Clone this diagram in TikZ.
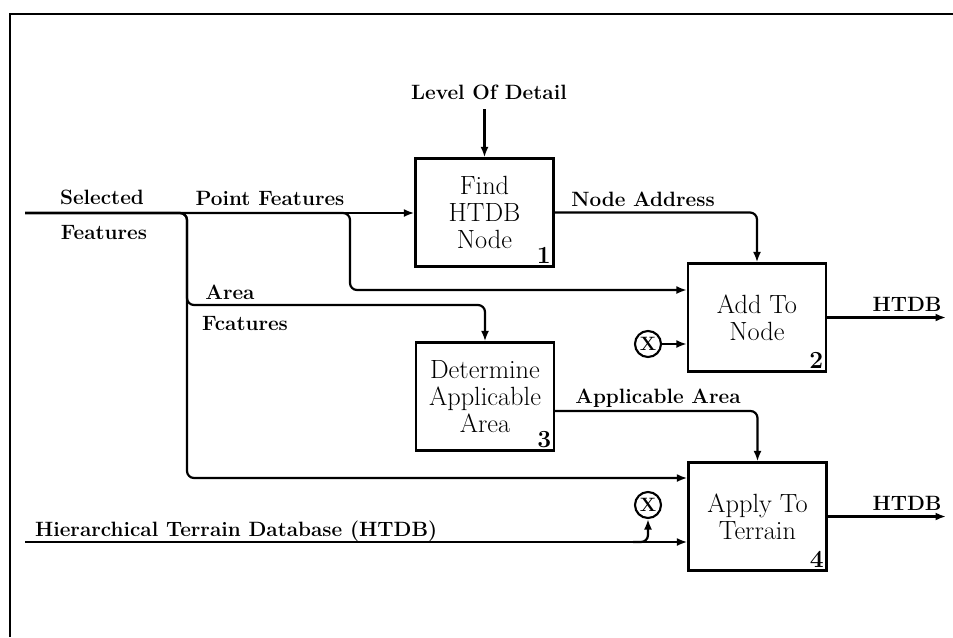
\documentclass[tikz,border=0pt]{standalone}
\usepackage{fontspec}
\usetikzlibrary{positioning,arrows.meta}

\begin{document}
\begin{tikzpicture}[
            x=0.02cm, y=-0.02cm,
            process/.style={rectangle, draw, line width=1.3pt, minimum width=2.76cm, minimum height=2.16cm, align=center, inner sep=0pt, font=\fontsize{15}{15.5}\selectfont},
            boxnum/.style={anchor=south east, inner sep=2pt, font=\fontsize{14}{14}\selectfont\bfseries},
            lbl/.style={inner sep=1pt, font=\fontsize{11.8}{13}\selectfont\bfseries},
            xmark/.style={circle, draw, line width=1.2pt, inner sep=0pt, minimum size=0.52cm, font=\fontsize{11}{11}\selectfont\bfseries},
            flow/.style={-{Latex[length=2.1mm,width=1.6mm]}, line width=1.25pt, rounded corners=4pt}
        ]
        \useasboundingbox (0,0) rectangle (953,637);

        % frame
        \draw[line width=1pt] (10,637) -- (10,14) -- (953,14);

        % processes
        \node[process] (find) at (484.5,212.5) {Find\\HTDB\\Node};
        \node[process] (add) at (757,317.5) {Add To\\Node};
        \node[process] (det) at (485,396.5) {Determine\\Applicable\\Area};
        \node[process] (apply) at (757.5,516.5) {Apply To\\Terrain};
        \node[boxnum] (n1) at (find.south east) {1};
        \node[boxnum] (n2) at (add.south east) {2};
        \node[boxnum] (n3) at (det.south east) {3};
        \node[boxnum] (n4) at (apply.south east) {4};

        % labels
        \node[lbl] (lod) at (489,92) {Level Of Detail};
        \node[lbl] (sel) at (102,197) {Selected};
        \node[lbl] (selb) at (104,232) {Features};
        \node[lbl] (pf) at (270,198) {Point Features};
        \node[lbl] (na) at (643,199) {Node Address};
        \node[lbl] (ar) at (230,292) {Area};
        \node[lbl] (arb) at (245,323) {Fcatures};
        \node[lbl] (aa) at (658,398) {Applicable Area};
        \node[lbl] (h2) at (907,304) {HTDB};
        \node[lbl] (h4) at (907,503) {HTDB};
        \node[lbl, anchor=west] (hin) at (33,531) {Hierarchical Terrain Database (HTDB)};

        \node[xmark] (x1) at (648,344) {X};
        \node[xmark] (x2) at (648,505) {X};

        \coordinate (selin) at (25,213);
        \coordinate (jarea) at (187,213);
        \coordinate (jpoint) at (350,213);
        \coordinate (arturn) at (187,305);
        \coordinate (htdbin) at (25,542);
        \coordinate (x2foot) at (htdbin -| x2);
        \coordinate (pt2) at ([yshift=0.55cm]add.west);
        \coordinate (ar4) at ([yshift=0.77cm]apply.west);
        \coordinate (out2) at (946,317.5);
        \coordinate (out4) at (946,516.5);

        % flows
        \draw[flow] ([yshift=-0.16cm]lod.south -| find.north) -- (find.north);
        \draw[flow] (selin) -- (selin -| find.west);
        \draw[flow] (selin) -| (jpoint |- pt2) -- (pt2);
        \draw[flow] (selin) -| (arturn) -| (det.north);
        \draw[flow] (selin) -| (jarea |- ar4) -- (ar4);
        \draw[flow] (find.east) -| (add.north);
        \draw[flow] (x1) -- (x1 -| add.west);
        \draw[flow] (add.east) -- (out2);
        \draw[flow] ([yshift=-0.29cm]det.east) -| (apply.north);
        \draw[flow] (htdbin) -- (htdbin -| apply.west);
        \draw[flow] ([xshift=-0.3cm]x2foot) -| (x2);
        \draw[flow] (apply.east) -- (out4);
\end{tikzpicture}
\end{document}
